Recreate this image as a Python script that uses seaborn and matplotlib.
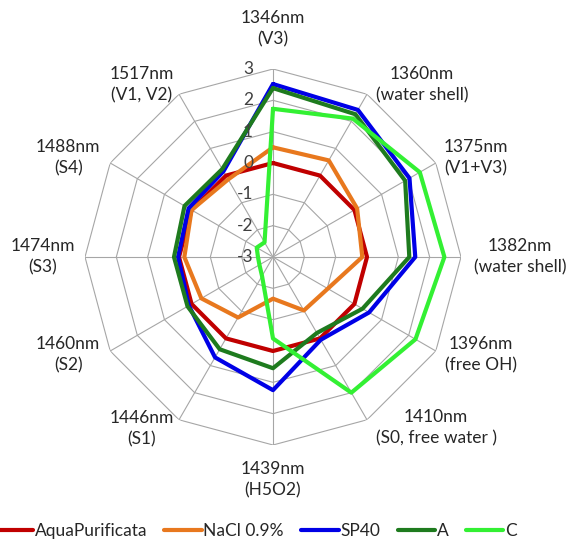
import numpy as np
import pandas as pd
import matplotlib
matplotlib.use("Agg")
import matplotlib.pyplot as plt
import seaborn as sns

# Axis labels (clockwise from top)
wavelengths = [
    "1346nm\n(V3)", "1360nm\n(water shell)", "1375nm\n(V1+V3)",
    "1382nm\n(water shell)", "1396nm\n(free OH)", "1410nm\n(S0, free water )",
    "1439nm\n(H5O2)", "1446nm\n(S1)", "1460nm\n(S2)", "1474nm\n(S3)",
    "1488nm\n(S4)", "1517nm\n(V1, V2)",
]

# Values
aqua = [0.0, 0.0, 0.0, 0.0, 0.0, 0.0, 0.0, 0.0, 0.0, 0.0, 0.0, 0.0]
nacl = [0.5, 0.56, 0.1, -0.15, -0.98, -1.03, -1.67, -0.77, -0.36, -0.17, 0.0, -0.14]
sp40 = [2.52, 2.42, 2.03, 1.54, 0.54, 0.05, 1.25, 0.7, 0.1, 0.03, 0.11, 0.16]
a_vals = [2.39, 2.26, 1.87, 1.35, 0.3, -0.2, 0.55, 0.4, 0.15, 0.16, 0.26, 0.24]
c_vals = [1.73, 2.1, 2.41, 2.47, 2.25, 2.0, -0.4, -2.3, -2.5, -2.52, -2.4, -2.46]

series_names = ["AquaPurificata", "NaCl 0.9%", "SP40", "A", "C"]
series_vals = [aqua, nacl, sp40, a_vals, c_vals]
colors = {"AquaPurificata": "#C00000", "NaCl 0.9%": "#E8781E", "SP40": "#0000E6",
          "A": "#1E7B1E", "C": "#33F033"}

r_ticks = [-3, -2, -1, 0, 1, 2, 3]

# long table, each polygon closed by repeating its first point
n = len(wavelengths)
theta = np.linspace(0, 2 * np.pi, n, endpoint=False)
rows = []
for name, vals in zip(series_names, series_vals):
    for k in range(n + 1):
        rows.append({"series": name, "order": k, "theta": theta[k % n], "value": vals[k % n]})
df = pd.DataFrame(rows)

sns.set_theme(style="white")
plt.rcParams["font.family"] = ["Lato", "DejaVu Sans"]

W, H = 573, 543
cx, cy, R = 273, 257, 188
fig = plt.figure(figsize=(W / 100, H / 100), dpi=100)
ax = fig.add_axes([(cx - R) / W, (H - cy - R) / H, 2 * R / W, 2 * R / H], projection="polar")
ax.set_theta_zero_location("N")
ax.set_theta_direction(-1)
ax.set_ylim(-3, 3)
ax.set_axis_off()

# polygon grid and spokes
grid_c = "#A6A6A6"
th_closed = np.append(theta, theta[0])
for v in r_ticks[1:]:
    ax.plot(th_closed, [v] * (n + 1), color=grid_c, lw=0.8, zorder=1)
for t in theta:
    ax.plot([t, t], [-3, 3], color=grid_c, lw=0.8, zorder=1)

sns.lineplot(data=df, x="theta", y="value", hue="series", units="series",
             palette=colors, sort=False, estimator=None, lw=3, ax=ax, legend=False, zorder=3)

# radial tick labels along the top spoke
for v in r_ticks:
    ax.annotate(str(v), xy=(0, v), xytext=(-20, 0), textcoords="offset pixels",
                ha="right", va="center", fontsize=12.5, color="#404040")

# category labels, offsets from the outer ring vertex (pixels)
offsets = [(0, 40.5), (55, 9), (40, 5), (59, 0.5), (45, -4), (69, -8),
           (0, -34.5), (-37, -9), (-42, -4), (-42, 0), (-42, 5), (-37, 9)]
for t, lab, off in zip(theta, wavelengths, offsets):
    ax.annotate(lab, xy=(t, 3), xytext=off, textcoords="offset pixels",
                ha="center", va="center", multialignment="center",
                fontsize=12.5, color="#262626", linespacing=1.4, annotation_clip=False)

handles = [plt.Line2D([], [], color=colors[s], lw=3) for s in series_names]
fig.legend(handles, series_names, loc="center", bbox_to_anchor=(256 / W, 1 - 531 / H),
           ncol=5, frameon=False, fontsize=12.5, handlelength=2.15, handletextpad=0.1,
           columnspacing=1.0)

fig.savefig("out.png", dpi=100)
